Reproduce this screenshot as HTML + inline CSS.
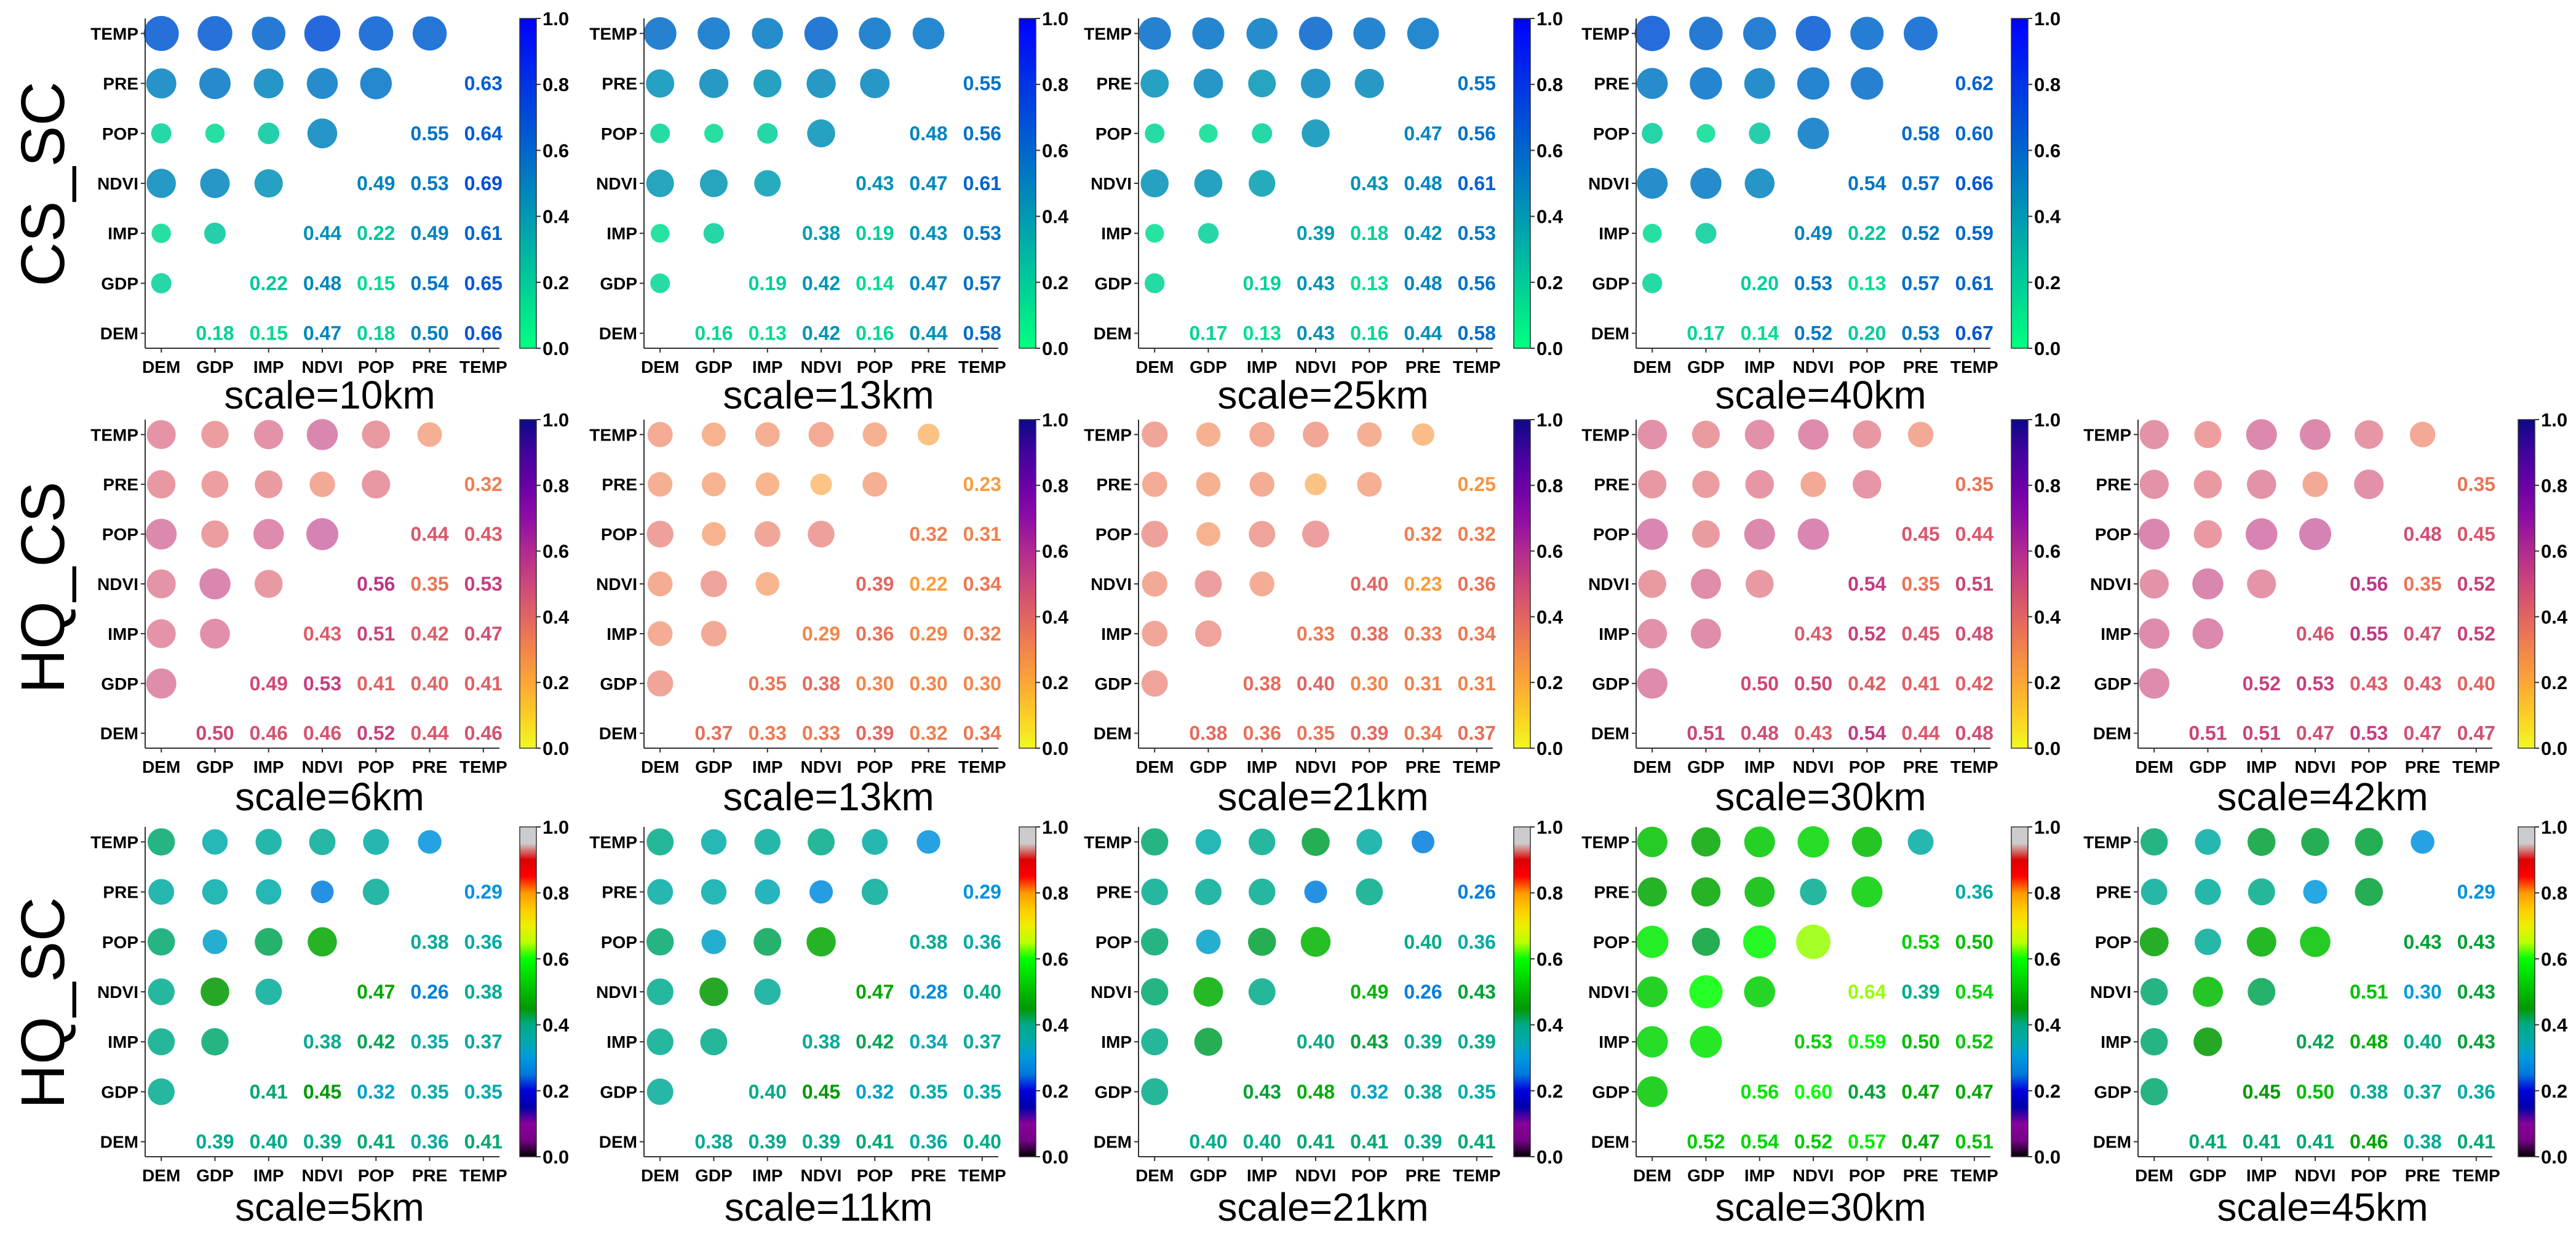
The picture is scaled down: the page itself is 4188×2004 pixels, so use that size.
<!DOCTYPE html>
<html><head><meta charset="utf-8"><style>
html,body{margin:0;padding:0;background:#fff;}
svg{display:block;font-family:"Liberation Sans",Arial,sans-serif;}
</style></head><body>
<svg id="fig" width="4188" height="2004" viewBox="0 0 4188 2004" xmlns="http://www.w3.org/2000/svg">
<defs id="defs"></defs>
</svg>
<script>
// ---- data ----
const variables = ["DEM","GDP","IMP","NDVI","POP","PRE","TEMP"];
const rowLabels = ["CS_SC","HQ_CS","HQ_SC"];
const cbTicks = [0,0.2,0.4,0.6,0.8,1.0];
const cbTickLabels = ["0.0","0.2","0.4","0.6","0.8","1.0"];
const scalesRow1 = ["10km","13km","25km","40km"];
const scalesRow2 = ["6km","13km","21km","30km","42km"];
const scalesRow3 = ["5km","11km","21km","30km","45km"];
const r1p1 = [[.18,.15,.47,.18,.50,.66],[.22,.48,.15,.54,.65],[.44,.22,.49,.61],[.49,.53,.69],[.55,.64],[.63]];
const r1p2 = [[.16,.13,.42,.16,.44,.58],[.19,.42,.14,.47,.57],[.38,.19,.43,.53],[.43,.47,.61],[.48,.56],[.55]];
const r1p3 = [[.17,.13,.43,.16,.44,.58],[.19,.43,.13,.48,.56],[.39,.18,.42,.53],[.43,.48,.61],[.47,.56],[.55]];
const r1p4 = [[.17,.14,.52,.20,.53,.67],[.20,.53,.13,.57,.61],[.49,.22,.52,.59],[.54,.57,.66],[.58,.60],[.62]];
const r2p1 = [[.50,.46,.46,.52,.44,.46],[.49,.53,.41,.40,.41],[.43,.51,.42,.47],[.56,.35,.53],[.44,.43],[.32]];
const r2p2 = [[.37,.33,.33,.39,.32,.34],[.35,.38,.30,.30,.30],[.29,.36,.29,.32],[.39,.22,.34],[.32,.31],[.23]];
const r2p3 = [[.38,.36,.35,.39,.34,.37],[.38,.40,.30,.31,.31],[.33,.38,.33,.34],[.40,.23,.36],[.32,.32],[.25]];
const r2p4 = [[.51,.48,.43,.54,.44,.48],[.50,.50,.42,.41,.42],[.43,.52,.45,.48],[.54,.35,.51],[.45,.44],[.35]];
const r2p5 = [[.51,.51,.47,.53,.47,.47],[.52,.53,.43,.43,.40],[.46,.55,.47,.52],[.56,.35,.52],[.48,.45],[.35]];
const r3p1 = [[.39,.40,.39,.41,.36,.41],[.41,.45,.32,.35,.35],[.38,.42,.35,.37],[.47,.26,.38],[.38,.36],[.29]];
const r3p2 = [[.38,.39,.39,.41,.36,.40],[.40,.45,.32,.35,.35],[.38,.42,.34,.37],[.47,.28,.40],[.38,.36],[.29]];
const r3p3 = [[.40,.40,.41,.41,.39,.41],[.43,.48,.32,.38,.35],[.40,.43,.39,.39],[.49,.26,.43],[.40,.36],[.26]];
const r3p4 = [[.52,.54,.52,.57,.47,.51],[.56,.60,.43,.47,.47],[.53,.59,.50,.52],[.64,.39,.54],[.53,.50],[.36]];
const r3p5 = [[.41,.41,.41,.46,.38,.41],[.45,.50,.38,.37,.36],[.42,.48,.40,.43],[.51,.30,.43],[.43,.43],[.29]];

const rowData = [[r1p1,r1p2,r1p3,r1p4],[r2p1,r2p2,r2p3,r2p4,r2p5],[r3p1,r3p2,r3p3,r3p4,r3p5]];
const rowScales = [scalesRow1,scalesRow2,scalesRow3];

// ---- layout ----
const axLeft=[236,1047,1851,2660,3476];
const cbLeft=[845,1657,2461,3270,4094];
const rowTop=[30,682,1344], rowBot=[566,1216,1880];
const titleY=[642,1295,1962];
const AXW=576, CBW=27;
const circleAlpha=[0.85,0.62,0.85];

function interp(stops,v){v=Math.max(0,Math.min(1,v));
  for(let i=1;i<stops.length;i++){ if(v<=stops[i][0]){const a=stops[i-1],b=stops[i];const t=(v-a[0])/((b[0]-a[0])||1);
    return [0,1,2].map(k=>Math.round(255*(a[1][k]+(b[1][k]-a[1][k])*t)));}}
  return stops[stops.length-1][1].map(x=>Math.round(255*x));}
const winterR=[[0,[0,1,0.5]],[1,[0,0,1]]];
const plasmaHex=["#0d0887","#41049d","#6a00a8","#8f0da4","#b12a90","#cc4778","#e16462","#f2844b","#fca636","#fcce25","#f0f921"];
const plasmaR=plasmaHex.map((h,i)=>[i/10,[parseInt(h.slice(1,3),16)/255,parseInt(h.slice(3,5),16)/255,parseInt(h.slice(5,7),16)/255]]).map(s=>[1-s[0],s[1]]).reverse();
const nipy=[[0,[0,0,0]],[.05,[.4667,0,.5333]],[.1,[.5333,0,.6]],[.15,[0,0,.6667]],[.2,[0,0,.8667]],[.25,[0,.4667,.8667]],[.3,[0,.6,.8667]],[.35,[0,.6667,.6667]],[.4,[0,.6667,.5333]],[.45,[0,.6,0]],[.5,[0,.7333,0]],[.55,[0,.8667,0]],[.6,[0,1,0]],[.65,[.7333,1,0]],[.7,[.9333,.9333,0]],[.75,[1,.8,0]],[.8,[1,.6,0]],[.85,[1,0,0]],[.9,[.8667,0,0]],[.95,[.8,.8,.8]],[1,[.8,.8,.8]]];
const cmaps=[winterR,plasmaR,nipy];
const rgb=c=>`rgb(${c[0]},${c[1]},${c[2]})`;

const NS="http://www.w3.org/2000/svg";
const svg=document.getElementById('fig');
const defs=document.getElementById('defs');
function mk(tag,attrs,parent){const e=document.createElementNS(NS,tag);for(const k in attrs)e.setAttribute(k,attrs[k]);(parent||svg).appendChild(e);return e;}

cmaps.forEach((cm,ri)=>{
  const g=mk('linearGradient',{id:'cm'+ri,x1:0,y1:1,x2:0,y2:0},defs);
  for(let i=0;i<=40;i++){const v=i/40;mk('stop',{offset:v,'stop-color':rgb(interp(cm,v))},g);}
});

const labelY=[299,955,1630];
rowLabels.forEach((lab,ri)=>{
  const t=mk('text',{x:0,y:0,transform:`translate(104,${labelY[ri]}) rotate(-90)`,'text-anchor':'middle','font-size':100});
  
  
  t.textContent=lab;
});

rowData.forEach((panels,ri)=>{
  const cm=cmaps[ri];
  panels.forEach((up,pi)=>{
    const L=axLeft[pi], T=rowTop[ri], B=rowBot[ri];
    const xs=i=>L+AXW*(i+0.3)/6.6;
    const ys=j=>B-(B-T)*(j+0.3)/6.6;
    const g=mk('g',{});
    
    
    const val=(a,b)=>{const i=Math.min(a,b),j=Math.max(a,b);return up[i][j-i-1];};
    for(let r=0;r<7;r++)for(let c=0;c<r;c++){
      const v=val(r,c);const d=24+50*v;
      const ci=mk('circle',{cx:xs(c),cy:ys(r),r:d/2,fill:rgb(interp(cm,v)),'fill-opacity':circleAlpha[ri]},g);
      
      
    }
    for(let r=0;r<7;r++)for(let c=r+1;c<7;c++){
      const v=val(r,c);
      const t=mk('text',{x:xs(c),y:ys(r)+11,'text-anchor':'middle','font-size':32,'font-weight':'bold',fill:rgb(interp(cm,v))},g);
      
      
      t.textContent=v.toFixed(2);
    }
    mk('line',{x1:L,y1:T,x2:L,y2:B,stroke:'#333',"stroke-width":2},g);
    mk('line',{x1:L,y1:B,x2:L+AXW,y2:B,stroke:'#333',"stroke-width":2},g);
    variables.forEach((nm,i)=>{
      mk('line',{x1:xs(i),y1:B,x2:xs(i),y2:B+7,stroke:'#333','stroke-width':2},g);
      const tx=mk('text',{x:xs(i),y:B+40,'text-anchor':'middle','font-size':28,'font-weight':'bold'},g);
      
      
      tx.textContent=nm;
      mk('line',{x1:L-7,y1:ys(i),x2:L,y2:ys(i),stroke:'#333','stroke-width':2},g);
      const ty=mk('text',{x:L-11,y:ys(i)+10,'text-anchor':'end','font-size':28,'font-weight':'bold'},g);
      
      
      ty.textContent=nm;
    });
    const C=cbLeft[pi];
    const cb=mk('rect',{x:C,y:T,width:CBW,height:B-T,fill:`url(#cm${ri})`},g);
    
    
    mk('rect',{x:C,y:T,width:CBW,height:B-T,fill:'none',stroke:'#333','stroke-width':1.5},g);
    cbTicks.forEach((tv,k)=>{
      const y=B-(B-T)*tv;
      mk('line',{x1:C+CBW,y1:y,x2:C+CBW+7,y2:y,stroke:'#333','stroke-width':2},g);
      const tl=mk('text',{x:C+CBW+10,y:y+11,'font-size':31,'font-weight':'bold'},g);
      
      
      tl.textContent=cbTickLabels[k];
    });
    const tt=mk('text',{x:L+AXW/2+12,y:titleY[ri]+22,'text-anchor':'middle','font-size':64},g);
    
    
    tt.textContent='scale='+rowScales[ri][pi];
  });
});
</script>
</body></html>
